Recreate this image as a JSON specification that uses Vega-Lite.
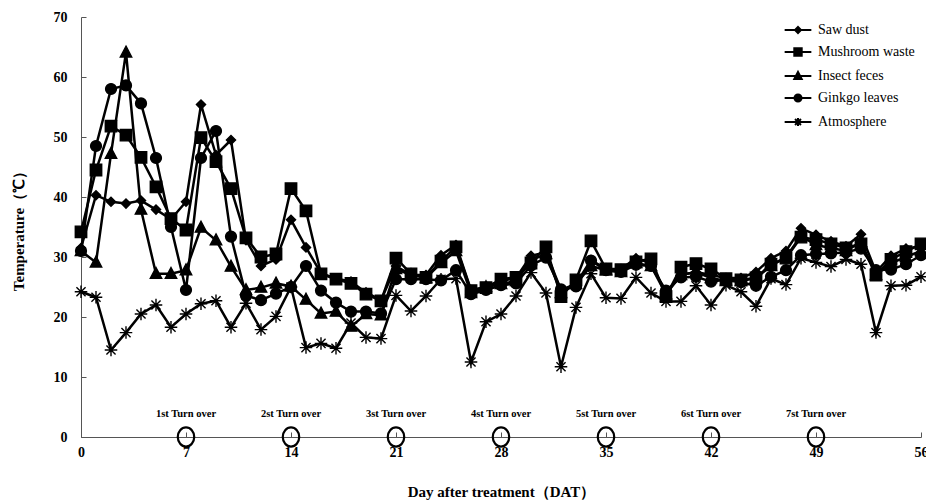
{
  "$schema": "https://vega.github.io/schema/vega-lite/v6.json",
  "width": 840,
  "height": 420,
  "autosize": {"type": "none"},
  "padding": {"left": 81, "top": 17, "right": 5, "bottom": 63},
  "background": "white",
  "config": {
    "view": {"stroke": null},
    "font": "Liberation Serif",
    "point": {"filled": true, "color": "black", "stroke": "black", "strokeWidth": 1.4, "size": 130, "opacity": 1},
    "axis": {
      "grid": false,
      "domainColor": "#555555",
      "tickColor": "#555555",
      "domainWidth": 1,
      "tickWidth": 1,
      "tickSize": -5,
      "labelFont": "Liberation Serif",
      "labelFontWeight": "bold",
      "labelFontSize": 14,
      "labelColor": "black",
      "titleFont": "Liberation Serif",
      "titleFontWeight": "bold",
      "titleFontSize": 15,
      "titleColor": "black"
    }
  },
  "datasets": {
    "temps": [
      {"day": 0, "Saw dust": 31.5, "Mushroom waste": 34.2, "Insect feces": 31.0, "Ginkgo leaves": 31.0, "Atmosphere": 24.2},
      {"day": 1, "Saw dust": 40.3, "Mushroom waste": 44.5, "Insect feces": 29.1, "Ginkgo leaves": 48.5, "Atmosphere": 23.3},
      {"day": 2, "Saw dust": 39.2, "Mushroom waste": 51.8, "Insect feces": 47.2, "Ginkgo leaves": 58.0, "Atmosphere": 14.5},
      {"day": 3, "Saw dust": 38.9, "Mushroom waste": 50.3, "Insect feces": 64.1, "Ginkgo leaves": 58.6, "Atmosphere": 17.4},
      {"day": 4, "Saw dust": 39.4, "Mushroom waste": 46.6, "Insect feces": 37.9, "Ginkgo leaves": 55.6, "Atmosphere": 20.5},
      {"day": 5, "Saw dust": 37.9, "Mushroom waste": 41.7, "Insect feces": 27.2, "Ginkgo leaves": 46.5, "Atmosphere": 22.0},
      {"day": 6, "Saw dust": 36.3, "Mushroom waste": 36.4, "Insect feces": 27.2, "Ginkgo leaves": 35.0, "Atmosphere": 18.3},
      {"day": 7, "Saw dust": 39.2, "Mushroom waste": 34.5, "Insect feces": 27.8, "Ginkgo leaves": 24.5, "Atmosphere": 20.5},
      {"day": 8, "Saw dust": 55.4, "Mushroom waste": 49.9, "Insect feces": 34.9, "Ginkgo leaves": 46.5, "Atmosphere": 22.2},
      {"day": 9, "Saw dust": 47.0, "Mushroom waste": 45.9, "Insect feces": 32.8, "Ginkgo leaves": 51.0, "Atmosphere": 22.7},
      {"day": 10, "Saw dust": 49.5, "Mushroom waste": 41.4, "Insect feces": 28.4, "Ginkgo leaves": 33.4, "Atmosphere": 18.3},
      {"day": 11, "Saw dust": 32.8, "Mushroom waste": 33.2, "Insect feces": 24.5, "Ginkgo leaves": 23.6, "Atmosphere": 22.3},
      {"day": 12, "Saw dust": 28.5, "Mushroom waste": 30.0, "Insect feces": 24.9, "Ginkgo leaves": 22.8, "Atmosphere": 17.9},
      {"day": 13, "Saw dust": 29.6, "Mushroom waste": 30.5, "Insect feces": 25.6, "Ginkgo leaves": 23.9, "Atmosphere": 20.1},
      {"day": 14, "Saw dust": 36.2, "Mushroom waste": 41.4, "Insect feces": 25.1, "Ginkgo leaves": 25.0, "Atmosphere": 25.0},
      {"day": 15, "Saw dust": 31.6, "Mushroom waste": 37.7, "Insect feces": 22.9, "Ginkgo leaves": 28.5, "Atmosphere": 14.9},
      {"day": 16, "Saw dust": 27.3, "Mushroom waste": 27.2, "Insect feces": 20.6, "Ginkgo leaves": 24.4, "Atmosphere": 15.6},
      {"day": 17, "Saw dust": 26.4, "Mushroom waste": 26.3, "Insect feces": 20.9, "Ginkgo leaves": 22.4, "Atmosphere": 14.8},
      {"day": 18, "Saw dust": 25.9, "Mushroom waste": 25.6, "Insect feces": 18.4, "Ginkgo leaves": 20.9, "Atmosphere": 19.0},
      {"day": 19, "Saw dust": 24.1, "Mushroom waste": 23.8, "Insect feces": 20.5, "Ginkgo leaves": 20.9, "Atmosphere": 16.6},
      {"day": 20, "Saw dust": 22.8, "Mushroom waste": 22.7, "Insect feces": 20.3, "Ginkgo leaves": 20.6, "Atmosphere": 16.4},
      {"day": 21, "Saw dust": 28.5, "Mushroom waste": 29.8, "Insect feces": 28.0, "Ginkgo leaves": 26.3, "Atmosphere": 23.6},
      {"day": 22, "Saw dust": 27.0, "Mushroom waste": 27.2, "Insect feces": 27.0, "Ginkgo leaves": 26.3, "Atmosphere": 21.0},
      {"day": 23, "Saw dust": 27.0, "Mushroom waste": 26.6, "Insect feces": 26.5, "Ginkgo leaves": 26.3, "Atmosphere": 23.5},
      {"day": 24, "Saw dust": 30.3, "Mushroom waste": 29.3, "Insect feces": 29.0, "Ginkgo leaves": 26.1, "Atmosphere": 26.3},
      {"day": 25, "Saw dust": 32.0, "Mushroom waste": 31.7, "Insect feces": 31.0, "Ginkgo leaves": 27.8, "Atmosphere": 26.4},
      {"day": 26, "Saw dust": 24.5, "Mushroom waste": 24.4, "Insect feces": 24.0, "Ginkgo leaves": 23.8, "Atmosphere": 12.5},
      {"day": 27, "Saw dust": 25.0, "Mushroom waste": 24.9, "Insect feces": 25.0, "Ginkgo leaves": 24.5, "Atmosphere": 19.2},
      {"day": 28, "Saw dust": 26.0, "Mushroom waste": 26.3, "Insect feces": 25.5, "Ginkgo leaves": 25.3, "Atmosphere": 20.5},
      {"day": 29, "Saw dust": 26.5, "Mushroom waste": 26.6, "Insect feces": 26.0, "Ginkgo leaves": 25.6, "Atmosphere": 23.5},
      {"day": 30, "Saw dust": 30.2, "Mushroom waste": 29.0, "Insect feces": 29.5, "Ginkgo leaves": 28.6, "Atmosphere": 27.4},
      {"day": 31, "Saw dust": 30.8, "Mushroom waste": 31.7, "Insect feces": 30.5, "Ginkgo leaves": 29.9, "Atmosphere": 24.0},
      {"day": 32, "Saw dust": 24.5, "Mushroom waste": 23.4, "Insect feces": 24.0, "Ginkgo leaves": 24.6, "Atmosphere": 11.7},
      {"day": 33, "Saw dust": 25.5, "Mushroom waste": 26.2, "Insect feces": 25.5, "Ginkgo leaves": 25.1, "Atmosphere": 21.6},
      {"day": 34, "Saw dust": 29.5, "Mushroom waste": 32.7, "Insect feces": 28.5, "Ginkgo leaves": 29.4, "Atmosphere": 27.2},
      {"day": 35, "Saw dust": 28.0, "Mushroom waste": 28.0, "Insect feces": 27.8, "Ginkgo leaves": 27.8, "Atmosphere": 23.2},
      {"day": 36, "Saw dust": 28.0, "Mushroom waste": 27.9, "Insect feces": 27.5, "Ginkgo leaves": 27.5, "Atmosphere": 23.1},
      {"day": 37, "Saw dust": 29.8, "Mushroom waste": 29.2, "Insect feces": 29.0, "Ginkgo leaves": 28.7, "Atmosphere": 26.6},
      {"day": 38, "Saw dust": 29.0, "Mushroom waste": 29.7, "Insect feces": 28.5, "Ginkgo leaves": 28.5, "Atmosphere": 24.0},
      {"day": 39, "Saw dust": 24.0, "Mushroom waste": 23.4, "Insect feces": 23.8, "Ginkgo leaves": 24.4, "Atmosphere": 22.6},
      {"day": 40, "Saw dust": 27.0, "Mushroom waste": 28.3, "Insect feces": 27.0, "Ginkgo leaves": 26.6, "Atmosphere": 22.6},
      {"day": 41, "Saw dust": 27.5, "Mushroom waste": 28.9, "Insect feces": 27.5, "Ginkgo leaves": 26.7, "Atmosphere": 25.2},
      {"day": 42, "Saw dust": 27.0, "Mushroom waste": 28.0, "Insect feces": 26.5, "Ginkgo leaves": 25.9, "Atmosphere": 22.0},
      {"day": 43, "Saw dust": 26.5, "Mushroom waste": 26.4, "Insect feces": 26.0, "Ginkgo leaves": 26.2, "Atmosphere": 25.3},
      {"day": 44, "Saw dust": 26.5, "Mushroom waste": 26.2, "Insect feces": 26.0, "Ginkgo leaves": 25.8, "Atmosphere": 24.2},
      {"day": 45, "Saw dust": 27.5, "Mushroom waste": 26.5, "Insect feces": 26.5, "Ginkgo leaves": 25.2, "Atmosphere": 21.8},
      {"day": 46, "Saw dust": 29.8, "Mushroom waste": 28.8, "Insect feces": 28.5, "Ginkgo leaves": 26.7, "Atmosphere": 26.4},
      {"day": 47, "Saw dust": 31.0, "Mushroom waste": 29.8, "Insect feces": 30.0, "Ginkgo leaves": 27.8, "Atmosphere": 25.4},
      {"day": 48, "Saw dust": 34.8, "Mushroom waste": 33.3, "Insect feces": 33.5, "Ginkgo leaves": 30.3, "Atmosphere": 29.8},
      {"day": 49, "Saw dust": 33.7, "Mushroom waste": 32.9, "Insect feces": 32.0, "Ginkgo leaves": 30.5, "Atmosphere": 29.1},
      {"day": 50, "Saw dust": 32.6, "Mushroom waste": 32.2, "Insect feces": 31.5, "Ginkgo leaves": 30.6, "Atmosphere": 28.4},
      {"day": 51, "Saw dust": 31.8, "Mushroom waste": 31.5, "Insect feces": 31.0, "Ginkgo leaves": 30.8, "Atmosphere": 29.6},
      {"day": 52, "Saw dust": 33.8, "Mushroom waste": 32.2, "Insect feces": 32.5, "Ginkgo leaves": 31.4, "Atmosphere": 28.8},
      {"day": 53, "Saw dust": 27.5, "Mushroom waste": 27.0, "Insect feces": 27.0, "Ginkgo leaves": 27.8, "Atmosphere": 17.4},
      {"day": 54, "Saw dust": 30.2, "Mushroom waste": 29.6, "Insect feces": 29.0, "Ginkgo leaves": 27.9, "Atmosphere": 25.2},
      {"day": 55, "Saw dust": 31.4, "Mushroom waste": 30.9, "Insect feces": 30.0, "Ginkgo leaves": 28.8, "Atmosphere": 25.3},
      {"day": 56, "Saw dust": 31.8, "Mushroom waste": 32.2, "Insect feces": 31.0, "Ginkgo leaves": 30.3, "Atmosphere": 26.7}
    ],
    "turns": [
      {"day": 7, "label": "1st Turn over"},
      {"day": 14, "label": "2st Turn over"},
      {"day": 21, "label": "3st Turn over"},
      {"day": 28, "label": "4st Turn over"},
      {"day": 35, "label": "5st Turn over"},
      {"day": 42, "label": "6st Turn over"},
      {"day": 49, "label": "7st Turn over"}
    ]
  },
  "encoding": {
    "x": {
      "field": "day",
      "type": "quantitative",
      "scale": {"domain": [0, 56], "nice": false, "zero": false},
      "axis": {
        "values": [0, 7, 14, 21, 28, 35, 42, 49, 56],
        "title": "Day after treatment（DAT）",
        "labelPadding": 13,
        "titlePadding": 25,
        "labelFlush": false
      }
    }
  },
  "layer": [
    {
      "data": {"name": "temps"},
      "layer": [
        {
          "transform": [
            {"fold": ["Saw dust", "Mushroom waste", "Insect feces", "Ginkgo leaves", "Atmosphere"], "as": ["series", "t"]}
          ],
          "mark": {"type": "line", "strokeWidth": 2.5},
          "encoding": {
            "y": {
              "field": "t",
              "type": "quantitative",
              "scale": {"domain": [0, 70], "nice": false},
              "axis": {"values": [0, 10, 20, 30, 40, 50, 60, 70], "title": "Temperature（℃）", "labelPadding": 19, "titlePadding": 27}
            },
            "color": {
              "field": "series",
              "type": "nominal",
              "scale": {
                "domain": ["Saw dust", "Mushroom waste", "Insect feces", "Ginkgo leaves", "Atmosphere"],
                "range": ["black", "black", "black", "black", "black"]
              },
              "legend": {
                "title": null,
                "orient": "top-right",
                "offset": 6,
                "symbolSize": 55,
                "labelFont": "Liberation Serif",
                "labelFontSize": 14,
                "labelColor": "black",
                "labelOffset": 13,
                "rowPadding": 7,
                "encode": {
                  "symbols": {
                    "update": {
                      "shape": {"signal": "'M-3.6,0H3.6' + (datum.value === 'Saw dust' ? 'M0,-0.8L0.8,0L0,0.8L-0.8,0Z' : datum.value === 'Mushroom waste' ? 'M-1,-1H1V1H-1Z' : datum.value === 'Insect feces' ? 'M0,-1.1L1,0.8L-1,0.8Z' : datum.value === 'Ginkgo leaves' ? 'M0.95,0A0.95,0.95,0,1,1,-0.95,0A0.95,0.95,0,1,1,0.95,0Z' : 'M-1.1,0H1.1M0,-1.1V1.1M-0.8,-0.8L0.8,0.8M-0.8,0.8L0.8,-0.8')"},
                      "fill": {"value": "black"},
                      "stroke": {"value": "black"},
                      "strokeWidth": {"value": 2},
                      "strokeOpacity": {"value": 1},
                      "opacity": {"value": 1}
                    }
                  }
                }
              }
            }
          }
        },
        {
          "transform": [
            {"fold": ["Saw dust"], "as": ["kind", "t"]}
          ],
          "mark": {"type": "point", "shape": "M0,-0.8L0.8,0L0,0.8L-0.8,0Z"},
          "encoding": {"y": {"field": "t", "type": "quantitative"}}
        },
        {
          "transform": [
            {"fold": ["Mushroom waste"], "as": ["kind", "t"]}
          ],
          "mark": {"type": "point", "shape": "M-1,-1H1V1H-1Z"},
          "encoding": {"y": {"field": "t", "type": "quantitative"}}
        },
        {
          "transform": [
            {"fold": ["Insect feces"], "as": ["kind", "t"]}
          ],
          "mark": {"type": "point", "shape": "M0,-1.1L1,0.8L-1,0.8Z"},
          "encoding": {"y": {"field": "t", "type": "quantitative"}}
        },
        {
          "transform": [
            {"fold": ["Ginkgo leaves"], "as": ["kind", "t"]}
          ],
          "mark": {"type": "point", "shape": "M0.95,0A0.95,0.95,0,1,1,-0.95,0A0.95,0.95,0,1,1,0.95,0Z"},
          "encoding": {"y": {"field": "t", "type": "quantitative"}}
        },
        {
          "transform": [
            {"fold": ["Atmosphere"], "as": ["kind", "t"]}
          ],
          "mark": {"type": "point", "shape": "M-1.1,0H1.1M0,-1.1V1.1M-0.8,-0.8L0.8,0.8M-0.8,0.8L0.8,-0.8"},
          "encoding": {"y": {"field": "t", "type": "quantitative"}}
        }
      ]
    },
    {
      "data": {"name": "turns"},
      "mark": {"type": "point", "filled": false, "shape": "M0,-1.1A0.95,1.1,0,1,1,0,1.1A0.95,1.1,0,1,1,0,-1.1Z", "size": 300, "stroke": "black", "strokeWidth": 2.2, "opacity": 1},
      "encoding": {
        "y": {"datum": 0, "type": "quantitative"}
      }
    },
    {
      "data": {"name": "turns"},
      "mark": {"type": "text", "font": "Liberation Serif", "fontWeight": "bold", "fontSize": 10.5, "color": "black", "dy": -23, "baseline": "middle"},
      "encoding": {
        "y": {"datum": 0, "type": "quantitative"},
        "text": {"field": "label"}
      }
    }
  ]
}
